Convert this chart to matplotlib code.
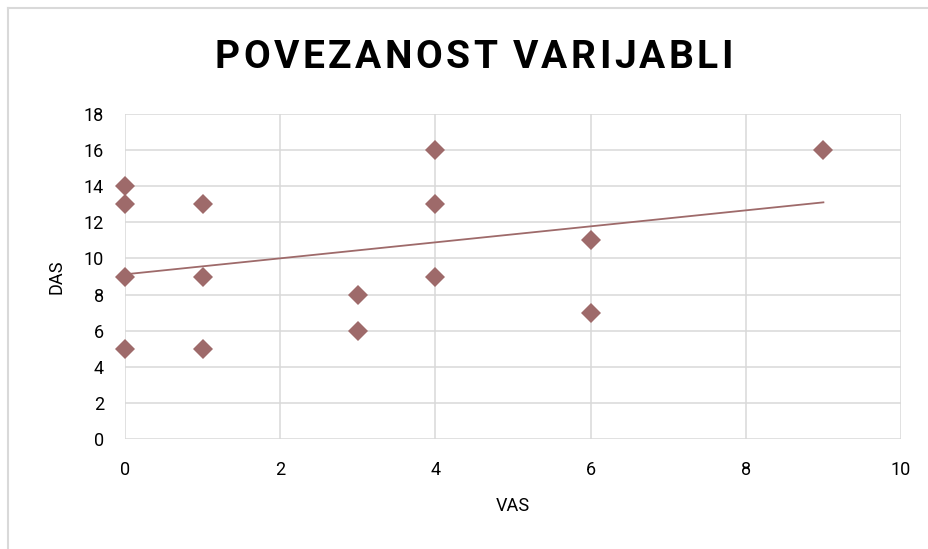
import numpy as np
import matplotlib
matplotlib.use("Agg")
import matplotlib.pyplot as plt
from matplotlib.lines import Line2D

# data
vas = [0, 0, 0, 0, 1, 1, 1, 3, 3, 4, 4, 4, 6, 6, 9]
das = [5, 9, 13, 14, 5, 9, 13, 6, 8, 9, 13, 16, 7, 11, 16]
trend_intercept = 9.12
trend_slope = 0.443
title = "POVEZANOST VARIJABLI"
xticks = [0, 2, 4, 6, 8, 10]
yticks = [0, 2, 4, 6, 8, 10, 12, 14, 16, 18]

col = "#9E6A6A"
grid = "#D9D9D9"

plt.rcParams['font.family'] = ['Roboto', 'DejaVu Sans']

W, H = 929, 549
fig = plt.figure(figsize=(W / 100, H / 100), dpi=100)
ax = fig.add_axes([125 / W, 1 - 439 / H, (901 - 125) / W, (439 - 114) / H])

ax.set_xlim(0, 10)
ax.set_ylim(0, 18)
ax.set_xticks(xticks)
ax.set_yticks(yticks)
ax.grid(True, color=grid, linewidth=1.1)
ax.set_axisbelow(True)
for s in ax.spines.values():
    s.set_visible(False)
ax.tick_params(length=0, labelsize=13, colors="#000000")
ax.tick_params(axis='x', pad=16)
ax.tick_params(axis='y', pad=15)

# trend line over data range
tx = np.array([min(vas), max(vas)])
ax.plot(tx, trend_intercept + trend_slope * tx, color=col, linewidth=1.3, zorder=2)
ax.plot(vas, das, linestyle='none', marker='D', markersize=10.5, color=col,
        markeredgewidth=0, zorder=3, clip_on=False)

ax.set_xlabel("VAS", fontsize=13, labelpad=13)
ax.set_ylabel("DAS", fontsize=13, labelpad=13)

# title with letter spacing, spread to fit 215..733 px
fig.canvas.draw()
r = fig.canvas.get_renderer()
fs = 28
widths = []
for ch in title:
    t = fig.text(0, 0, ch if ch != " " else "n", fontsize=fs, fontweight='bold')
    bb = t.get_window_extent(renderer=r)
    widths.append(bb.width * (0.4 if ch == " " else 1.0))
    t.remove()
x0, x1 = 215, 733
gap = (x1 - x0 - sum(widths)) / (len(title) - 1)
x = x0
for ch, w in zip(title, widths):
    if ch != " ":
        fig.text(x / W, 1 - 68 / H, ch, fontsize=fs, fontweight='bold',
                 ha='left', va='baseline')
    x += w + gap

# chart border lines (top and left)
fig.add_artist(Line2D([8 / W, 1], [1 - 8 / H, 1 - 8 / H], color=grid, linewidth=1.5,
                      transform=fig.transFigure))
fig.add_artist(Line2D([8 / W, 8 / W], [0, 1 - 8 / H], color=grid, linewidth=1.5,
                      transform=fig.transFigure))

fig.savefig("out.png", dpi=100)
